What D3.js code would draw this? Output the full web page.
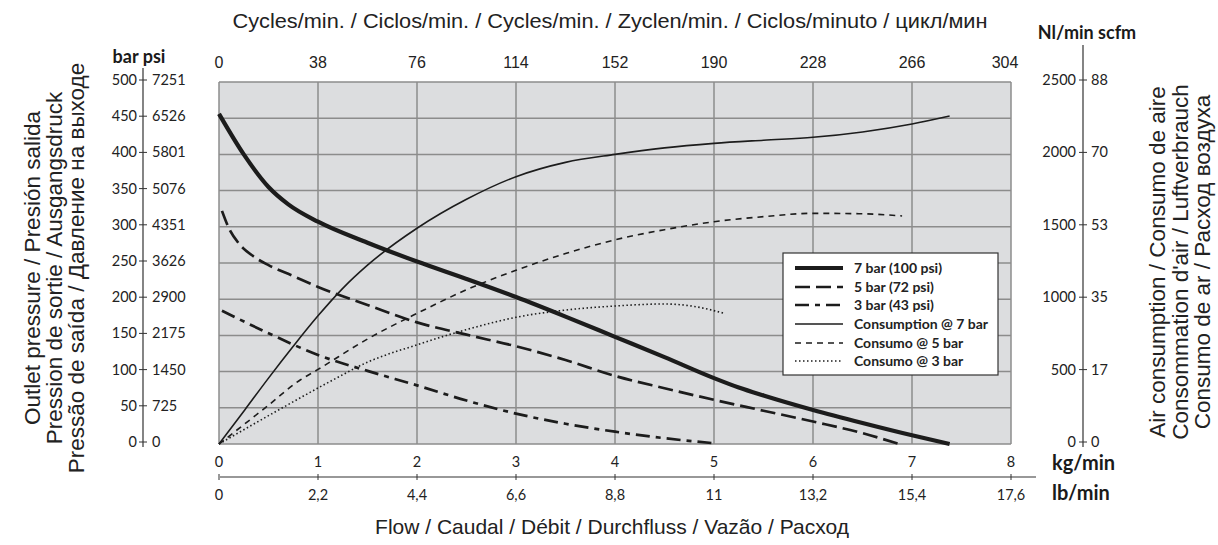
<!DOCTYPE html>
<html>
<head>
<meta charset="utf-8">
<script src="https://cdn.jsdelivr.net/npm/d3@7/dist/d3.min.js"></script>
<style>
  html, body { margin: 0; padding: 0; background: #ffffff; }
  svg { display: block; }
  .tick-label { font-family: Lato, "Open Sans", sans-serif; font-size: 14.5px; fill: #222; }
  .cond { font-family: "Liberation Sans Narrow", "Liberation Sans", Arial, sans-serif; fill: #222; }
  .unit { font-family: Lato, "Open Sans", sans-serif; font-weight: 700; font-size: 18px; fill: #1a1a1a; }
  .title { font-family: "Liberation Sans", Arial, sans-serif; font-size: 22.5px; fill: #222; }
  .legend-text { font-family: Lato, "Open Sans", sans-serif; font-weight: 700; font-size: 14px; fill: #222; }
</style>
</head>
<body>
<svg id="chart" width="1218" height="545"></svg>
<script>
// Flow in kg/min along the bottom
const flowTicks = [0, 1, 2, 3, 4, 5, 6, 7, 8];
const lbLabels = ["0", "2,2", "4,4", "6,6", "8,8", "11", "13,2", "15,4", "17,6"];
const cycleLabels = ["0", "38", "76", "114", "152", "190", "228", "266", "304"];

// Outlet pressure axis (left)
const pressureTicks = [0, 50, 100, 150, 200, 250, 300, 350, 400, 450, 500];
const psiLabels = ["0", "725", "1450", "2175", "2900", "3626", "4351", "5076", "5801", "6526", "7251"];

// Air consumption axis (right)
const airTicks = [0, 500, 1000, 1500, 2000, 2500];
const scfmLabels = ["0", "17", "35", "53", "70", "88"];

// Outlet pressure curves: [kg/min, pressure]
const press7 = [[0, 456], [0.25, 400], [0.5, 355], [0.7, 331], [1, 307], [1.5, 278], [2, 252], [2.5, 228], [3, 203], [3.5, 176], [4, 148], [4.5, 120], [5, 91], [5.25, 78], [5.5, 67], [6, 47], [6.5, 29], [7, 12], [7.38, 0]];
const press5 = [[0.03, 322], [0.1, 298], [0.2, 277], [0.35, 259], [0.5, 247], [0.75, 232], [1, 217], [1.5, 192], [2, 168], [2.5, 151], [3, 135], [3.5, 116], [4, 94], [4.5, 77], [5, 61], [5.5, 46], [6, 31], [6.5, 15], [6.87, 0]];
const press3 = [[0.03, 184], [0.5, 153], [1, 123], [1.5, 101], [2, 81], [2.5, 60], [3, 42], [3.5, 28], [4, 17], [4.5, 8], [5, 1]];

// Air consumption curves: [kg/min, Nl/min]
const air7 = [[0, 0], [0.26, 235], [0.5, 455], [0.75, 675], [1, 885], [1.25, 1075], [1.5, 1235], [2, 1490], [2.5, 1690], [3, 1846], [3.5, 1945], [4, 2000], [4.5, 2045], [5, 2076], [5.5, 2098], [6, 2118], [6.5, 2155], [7, 2210], [7.38, 2265]];
const air5 = [[0, 0], [0.46, 246], [0.82, 442], [1, 515], [1.5, 725], [2, 902], [2.5, 1065], [3, 1200], [3.5, 1315], [4, 1410], [4.5, 1480], [5, 1535], [5.5, 1570], [6, 1593], [6.5, 1590], [6.9, 1575]];
const air3 = [[0, 0], [0.62, 242], [1.15, 442], [1.5, 565], [2, 685], [2.5, 790], [3, 875], [3.5, 925], [4, 953], [4.5, 967], [4.8, 950], [5.1, 903]];

const legendLabels = ["7 bar (100 psi)", "5 bar (72 psi)", "3 bar (43 psi)", "Consumption @ 7 bar", "Consumo @ 5 bar", "Consumo @ 3 bar"];

const svg = d3.select("#chart");

const x = d3.scaleLinear().domain([0, 8]).range([219, 1011]);
const yP = d3.scaleLinear().domain([0, 500]).range([444, 82]);
const yA = d3.scaleLinear().domain([0, 2500]).range([444, 82]);

// Plot background and grid
svg.append("rect")
  .attr("x", x(0)).attr("y", yP(500))
  .attr("width", x(8) - x(0)).attr("height", yP(0) - yP(500))
  .attr("fill", "#dcdddf");

const grid = svg.append("g").attr("stroke", "#8c8c8c").attr("stroke-width", 1.5);
grid.selectAll("line.v").data(flowTicks).join("line")
  .attr("x1", d => x(d)).attr("x2", d => x(d))
  .attr("y1", yP(0)).attr("y2", yP(500));
grid.selectAll("line.h").data(pressureTicks).join("line")
  .attr("x1", x(0)).attr("x2", x(8))
  .attr("y1", d => yP(d)).attr("y2", d => yP(d));

// Curves
const lineP = d3.line().x(d => x(d[0])).y(d => yP(d[1])).curve(d3.curveMonotoneX);
const lineA = d3.line().x(d => x(d[0])).y(d => yA(d[1])).curve(d3.curveMonotoneX);

const styles = [
  { w: 4.2, dash: null },
  { w: 2.7, dash: "15,6" },
  { w: 2.7, dash: "14,6,5,6" },
  { w: 1.6, dash: null },
  { w: 1.6, dash: "6,5" },
  { w: 1.6, dash: "1.5,2.5" }
];
const series = [
  { d: press7, gen: lineP }, { d: press5, gen: lineP }, { d: press3, gen: lineP },
  { d: air7, gen: lineA }, { d: air5, gen: lineA }, { d: air3, gen: lineA }
];
series.forEach((s, i) => {
  svg.append("path")
    .attr("d", s.gen(s.d))
    .attr("fill", "none")
    .attr("stroke", "#1c1c1c")
    .attr("stroke-width", styles[i].w)
    .attr("stroke-dasharray", styles[i].dash);
});

// Legend
const lg = svg.append("g");
lg.append("rect").attr("x", 783).attr("y", 253).attr("width", 215).attr("height", 122)
  .attr("fill", "#ffffff").attr("stroke", "#333").attr("stroke-width", 1.2);
const rowY = [268, 287, 305, 324, 343, 361];
legendLabels.forEach((t, i) => {
  lg.append("line").attr("x1", 795).attr("x2", 843).attr("y1", rowY[i]).attr("y2", rowY[i])
    .attr("stroke", "#1c1c1c").attr("stroke-width", styles[i].w)
    .attr("stroke-dasharray", styles[i].dash);
  lg.append("text").attr("class", "legend-text").attr("x", 854).attr("y", rowY[i] + 5).text(t);
});

// Left axis: bar | psi
const left = svg.append("g");
left.append("line").attr("x1", 143).attr("x2", 143).attr("y1", 68).attr("y2", 447)
  .attr("stroke", "#333").attr("stroke-width", 1.2);
left.selectAll("line.t").data(pressureTicks).join("line")
  .attr("x1", 139).attr("x2", 147).attr("y1", d => yP(d) - 2).attr("y2", d => yP(d) - 2)
  .attr("stroke", "#333").attr("stroke-width", 1);
left.selectAll("text.bar").data(pressureTicks).join("text")
  .attr("class", "tick-label").attr("text-anchor", "end")
  .attr("x", 137).attr("y", d => yP(d) + 3).text(d => d);
left.selectAll("text.psi").data(pressureTicks).join("text")
  .attr("class", "tick-label").attr("text-anchor", "start")
  .attr("x", 152).attr("y", d => yP(d) + 3).text((d, i) => psiLabels[i]);
svg.append("text").attr("class", "unit").attr("x", 139).attr("y", 63).attr("text-anchor", "middle").text("bar psi");

// Right axis: Nl/min | scfm
const right = svg.append("g");
right.append("line").attr("x1", 1083).attr("x2", 1083).attr("y1", 45).attr("y2", 447)
  .attr("stroke", "#333").attr("stroke-width", 1.2);
right.selectAll("line.t").data(airTicks).join("line")
  .attr("x1", 1079).attr("x2", 1087).attr("y1", d => yA(d) - 2).attr("y2", d => yA(d) - 2)
  .attr("stroke", "#333").attr("stroke-width", 1);
right.selectAll("text.nl").data(airTicks).join("text")
  .attr("class", "tick-label").attr("text-anchor", "end")
  .attr("x", 1076).attr("y", d => yA(d) + 3).text(d => d);
right.selectAll("text.scfm").data(airTicks).join("text")
  .attr("class", "tick-label").attr("text-anchor", "start")
  .attr("x", 1091).attr("y", d => yA(d) + 3).text((d, i) => scfmLabels[i]);
svg.append("text").attr("class", "unit").attr("x", 1087).attr("y", 39).attr("text-anchor", "middle").text("Nl/min scfm");

// Top: cycles per minute
svg.selectAll("text.cyc").data(flowTicks).join("text")
  .attr("class", "cond").style("font-size", "16px").attr("text-anchor", "middle")
  .attr("x", d => x(d) - (d === 8 ? 6 : 0)).attr("y", 68).text((d, i) => cycleLabels[i]);
svg.append("text").attr("class", "cond").style("font-size", "21px")
  .attr("x", 610).attr("y", 28).attr("text-anchor", "middle")
  .attr("textLength", 755).attr("lengthAdjust", "spacingAndGlyphs")
  .text("Cycles/min. / Ciclos/min. / Cycles/min. / Zyclen/min. / Ciclos/minuto / цикл/мин");

// Bottom: kg/min and lb/min
svg.selectAll("text.kg").data(flowTicks).join("text")
  .attr("class", "tick-label").attr("text-anchor", "middle")
  .attr("x", d => x(d)).attr("y", 467).text(d => d);
svg.append("text").attr("class", "unit").style("font-size", "20px")
  .attr("x", 1052).attr("y", 470).text("kg/min");

svg.append("line").attr("x1", 220).attr("x2", 1036).attr("y1", 477).attr("y2", 477)
  .attr("stroke", "#333").attr("stroke-width", 1.2);
svg.selectAll("line.lbt").data(flowTicks).join("line")
  .attr("x1", d => x(d)).attr("x2", d => x(d)).attr("y1", 474).attr("y2", 480)
  .attr("stroke", "#333").attr("stroke-width", 1);
svg.selectAll("text.lb").data(flowTicks).join("text")
  .attr("class", "tick-label").attr("text-anchor", "middle")
  .attr("x", d => x(d)).attr("y", 500).text((d, i) => lbLabels[i]);
svg.append("text").attr("class", "unit").style("font-size", "20px")
  .attr("x", 1052).attr("y", 500).text("lb/min");

svg.append("text").attr("class", "title").style("font-size", "21px")
  .attr("x", 612).attr("y", 534).attr("text-anchor", "middle")
  .text("Flow / Caudal / Débit / Durchfluss / Vazão / Расход");

// Vertical axis titles
const leftTitles = ["Outlet pressure / Presión salida", "Pression de sortie / Ausgangsdruck", "Pressão de saída / Давление на выходе"];
const leftX = [40, 62, 84];
leftTitles.forEach((t, i) => {
  svg.append("text").attr("class", "title")
    .attr("transform", `translate(${leftX[i]},268) rotate(-90)`)
    .attr("text-anchor", "middle")
    .text(t);
});
const rightTitles = ["Air consumption / Consumo de aire", "Consommation d'air / Luftverbrauch", "Consumo de ar / Расход воздуха"];
const rightX = [1165, 1188, 1210];
rightTitles.forEach((t, i) => {
  svg.append("text").attr("class", "title")
    .attr("transform", `translate(${rightX[i]},262) rotate(-90)`)
    .attr("text-anchor", "middle")
    .text(t);
});
</script>
</body>
</html>
